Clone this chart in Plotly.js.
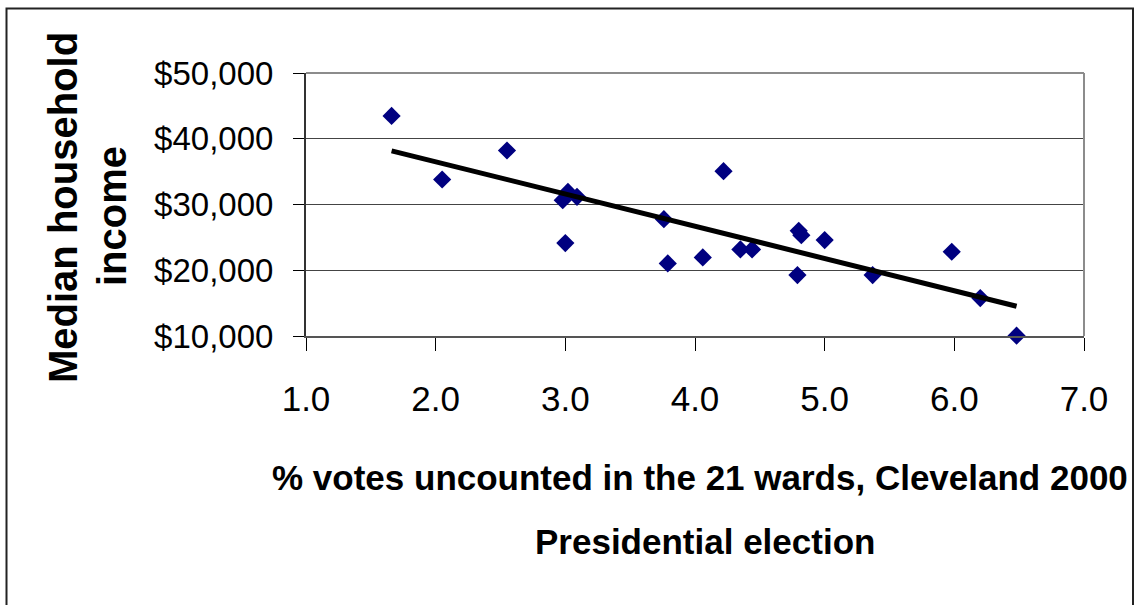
<!DOCTYPE html>
<html>
<head>
<meta charset="utf-8">
<script src="https://cdn.plot.ly/plotly-3.0.1.min.js"></script>
<style>
  html, body { margin: 0; padding: 0; background: #fff; }
  #chart { width: 1138px; height: 605px; }
</style>
</head>
<body>
<div id="chart"></div>
<script>
// ---- Data ----
const pctUncounted = [1.66, 2.05, 2.55, 2.98, 3.02, 3.09, 3.00, 3.76, 3.79, 4.06, 4.22,
                      4.35, 4.44, 4.80, 4.82, 5.00, 4.79, 5.37, 5.98, 6.20, 6.48];
const medianIncome = [43470, 33800, 38210, 30660, 31920, 31160, 24130, 27770, 21040, 21950, 35070,
                      23170, 23170, 26000, 25340, 24590, 19270, 19270, 22810, 15770, 10050];
const xTickVals = [1, 2, 3, 4, 5, 6, 7];
const xTickText = ['1.0', '2.0', '3.0', '4.0', '5.0', '6.0', '7.0'];
const yTickVals = [10000, 20000, 30000, 40000, 50000];
const yTickText = ['$10,000', '$20,000', '$30,000', '$40,000', '$50,000'];
const xTitleLines = ['% votes uncounted in the 21 wards, Cleveland 2000', 'Presidential election'];
const yTitleLines = ['Median household', 'income'];

// ---- Linear trendline (least squares, like the spreadsheet trendline) ----
const n = pctUncounted.length;
const mx = pctUncounted.reduce((a, b) => a + b, 0) / n;
const my = medianIncome.reduce((a, b) => a + b, 0) / n;
let sxy = 0, sxx = 0;
for (let i = 0; i < n; i++) {
  sxy += (pctUncounted[i] - mx) * (medianIncome[i] - my);
  sxx += (pctUncounted[i] - mx) * (pctUncounted[i] - mx);
}
const slope = sxy / sxx;
const intercept = my - slope * mx;
const trendX = [Math.min(...pctUncounted), Math.max(...pctUncounted)];
const trendY = trendX.map(x => intercept + slope * x);

// ---- Layout geometry ----
const W = 1138, H = 605;
const M = { l: 306, r: 54, t: 73, b: 269 };
const PW = W - M.l - M.r, PH = H - M.t - M.b;
const px = X => (X - M.l) / PW;          // pixel -> paper x
const py = Y => (H - M.b - Y) / PH;      // pixel -> paper y

const FONT = '"Liberation Sans", Arial, Helvetica, sans-serif';

const traces = [
  {
    type: 'scatter', mode: 'markers',
    x: pctUncounted, y: medianIncome,
    marker: { symbol: 'diamond', size: 14, color: '#000080', line: { width: 0 } },
    cliponaxis: false, hoverinfo: 'x+y', showlegend: false
  },
  {
    type: 'scatter', mode: 'lines',
    x: trendX, y: trendY,
    line: { color: '#000000', width: 5 },
    cliponaxis: false, hoverinfo: 'skip', showlegend: false
  }
];

const layout = {
  width: W, height: H, autosize: false,
  margin: { l: M.l, r: M.r, t: M.t, b: M.b, pad: 0 },
  paper_bgcolor: '#ffffff', plot_bgcolor: '#ffffff',
  font: { family: FONT, color: '#000000' },
  showlegend: false,
  xaxis: {
    range: [1, 7], tickmode: 'array', tickvals: xTickVals, ticktext: xTickText,
    ticks: 'outside', ticklen: 13, tickwidth: 1, tickcolor: '#000',
    showline: true, linecolor: '#555', linewidth: 2,
    showgrid: false, zeroline: false,
    tickfont: { family: FONT, size: 35, color: '#000' },
    ticklabelstandoff: 18
  },
  yaxis: {
    range: [10000, 50000], tickmode: 'array', tickvals: yTickVals, ticktext: yTickText,
    ticks: 'outside', ticklen: 11, tickwidth: 1, tickcolor: '#000',
    showline: true, linecolor: '#333', linewidth: 2,
    showgrid: true, gridcolor: '#444', gridwidth: 1, zeroline: false,
    tickfont: { family: FONT, size: 33, color: '#000' },
    ticklabelstandoff: 13
  },
  shapes: [
    // plot-area frame (top + right, grey)
    { type: 'line', xref: 'paper', yref: 'paper', x0: 0, x1: 1, y0: 1, y1: 1,
      line: { color: '#8c8c8c', width: 2 } },
    { type: 'line', xref: 'paper', yref: 'paper', x0: 1, x1: 1, y0: 0, y1: 1,
      line: { color: '#8c8c8c', width: 2 } },
    // outer chart border
    { type: 'rect', xref: 'paper', yref: 'paper',
      x0: px(6.5), x1: px(1133), y0: py(625), y1: py(8.5),
      line: { color: '#222', width: 2 }, fillcolor: 'rgba(0,0,0,0)', layer: 'above' }
  ],
  annotations: [
    { text: '<b>' + xTitleLines[0] + '</b>', xref: 'paper', yref: 'paper',
      x: px(700), y: py(477), xanchor: 'center', yanchor: 'middle', showarrow: false,
      font: { family: FONT, size: 35, color: '#000' } },
    { text: '<b>' + xTitleLines[1] + '</b>', xref: 'paper', yref: 'paper',
      x: px(705), y: py(541), xanchor: 'center', yanchor: 'middle', showarrow: false,
      font: { family: FONT, size: 35, color: '#000' } },
    { text: '<b>' + yTitleLines[0] + '</b>', xref: 'paper', yref: 'paper',
      x: px(63), y: py(208), xanchor: 'center', yanchor: 'middle', showarrow: false,
      textangle: -90, font: { family: FONT, size: 40, color: '#000' } },
    { text: '<b>' + yTitleLines[1] + '</b>', xref: 'paper', yref: 'paper',
      x: px(112), y: py(216), xanchor: 'center', yanchor: 'middle', showarrow: false,
      textangle: -90, font: { family: FONT, size: 40, color: '#000' } }
  ]
};

Plotly.newPlot('chart', traces, layout, { staticPlot: true, displayModeBar: false });
</script>
</body>
</html>
